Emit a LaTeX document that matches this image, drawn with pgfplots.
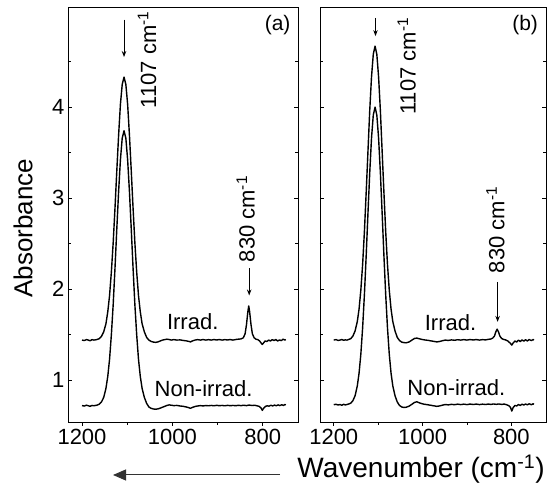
\documentclass[border=0pt]{standalone}
\usepackage{pgfplots}
\pgfplotsset{compat=1.18}
\usepackage{pgfplotstable}
\usepackage{fontspec}
\setmainfont{Liberation Sans}
\usetikzlibrary{arrows.meta}

% left panel (a)
\pgfplotstableread{
x y
1200 1.440
1195 1.435
1190 1.445
1186 1.440
1182 1.432
1178 1.445
1174 1.440
1170 1.443
1167 1.446
1162 1.455
1157 1.480
1152 1.530
1147 1.620
1143 1.750
1139 1.930
1135 2.190
1131 2.510
1127 2.890
1123 3.300
1119 3.690
1115 4.030
1111 4.250
1107 4.330
1103 4.250
1099 4.030
1095 3.690
1091 3.300
1087 2.890
1083 2.510
1079 2.190
1075 1.930
1071 1.750
1067 1.620
1062 1.530
1057 1.470
1052 1.440
1047 1.425
1042 1.418
1037 1.415
1032 1.420
1027 1.430
1022 1.440
1017 1.445
1012 1.450
1007 1.446
1002 1.440
997 1.445
990 1.440
983 1.442
976 1.436
970 1.432
964 1.426
960 1.420
956 1.430
950 1.440
944 1.445
938 1.440
932 1.446
926 1.440
920 1.445
914 1.440
908 1.446
902 1.441
896 1.446
890 1.440
884 1.445
878 1.441
872 1.446
866 1.440
860 1.446
854 1.450
848 1.453
843 1.465
839 1.510
836 1.610
833 1.750
831 1.815
829 1.750
826 1.610
823 1.510
819 1.465
815 1.450
811 1.445
807 1.430
804 1.410
801 1.392
798 1.410
795 1.430
791 1.424
787 1.440
783 1.430
779 1.445
775 1.435
771 1.446
767 1.430
763 1.442
759 1.434
755 1.450
751 1.440
749 1.446
}\irrA

\pgfplotstableread{
x y
1200 0.720
1195 0.715
1190 0.725
1186 0.718
1182 0.712
1178 0.722
1174 0.718
1170 0.722
1167 0.725
1162 0.735
1157 0.760
1152 0.810
1147 0.910
1143 1.040
1139 1.230
1135 1.500
1131 1.830
1127 2.230
1123 2.660
1119 3.070
1115 3.420
1111 3.660
1107 3.740
1103 3.660
1099 3.420
1095 3.070
1091 2.660
1087 2.230
1083 1.830
1079 1.500
1075 1.230
1071 1.040
1067 0.910
1062 0.810
1057 0.745
1052 0.705
1047 0.690
1042 0.683
1037 0.680
1032 0.684
1027 0.692
1022 0.702
1017 0.712
1012 0.722
1007 0.728
1002 0.724
997 0.720
990 0.722
983 0.716
976 0.712
970 0.706
964 0.698
960 0.690
956 0.700
950 0.710
944 0.716
938 0.720
932 0.716
926 0.721
920 0.718
914 0.722
908 0.718
902 0.723
896 0.719
890 0.722
884 0.718
878 0.723
872 0.719
866 0.722
860 0.719
854 0.723
848 0.720
842 0.724
836 0.720
830 0.726
824 0.721
818 0.724
813 0.718
808 0.712
804 0.695
801 0.668
798 0.692
794 0.712
790 0.718
786 0.714
782 0.724
778 0.716
774 0.726
770 0.718
766 0.728
762 0.720
758 0.730
754 0.722
751 0.732
749 0.728
}\nonA

% right panel (b)
\pgfplotstableread{
x y
1200 1.440
1195 1.445
1190 1.436
1186 1.440
1182 1.446
1178 1.438
1174 1.442
1170 1.440
1167 1.446
1162 1.455
1157 1.483
1152 1.540
1147 1.643
1143 1.782
1139 1.990
1135 2.270
1131 2.630
1127 3.060
1123 3.510
1119 3.960
1115 4.330
1111 4.580
1107 4.670
1103 4.580
1099 4.330
1095 3.960
1091 3.510
1087 3.060
1083 2.630
1079 2.270
1075 1.990
1071 1.782
1067 1.643
1062 1.540
1057 1.470
1052 1.435
1047 1.418
1042 1.412
1037 1.410
1030 1.420
1024 1.440
1018 1.458
1013 1.462
1008 1.455
1002 1.448
996 1.442
989 1.438
982 1.432
975 1.426
968 1.420
962 1.424
956 1.432
949 1.440
942 1.436
935 1.442
928 1.438
921 1.444
914 1.440
907 1.445
900 1.440
893 1.446
886 1.441
879 1.446
872 1.440
865 1.445
858 1.442
852 1.448
846 1.452
842 1.462
838 1.485
835 1.530
832 1.560
829 1.530
826 1.485
822 1.458
818 1.448
813 1.442
808 1.430
803 1.408
799 1.385
796 1.408
792 1.430
788 1.418
784 1.440
780 1.424
776 1.442
772 1.428
768 1.444
764 1.430
760 1.446
755 1.434
751 1.446
749 1.440
}\irrB

\pgfplotstableread{
x y
1200 0.730
1195 0.735
1190 0.726
1186 0.732
1182 0.724
1178 0.734
1174 0.728
1170 0.732
1167 0.737
1162 0.746
1157 0.773
1152 0.828
1147 0.936
1143 1.077
1139 1.286
1135 1.574
1131 1.937
1127 2.365
1123 2.829
1119 3.277
1115 3.657
1111 3.912
1107 4.000
1103 3.912
1099 3.657
1095 3.277
1091 2.829
1087 2.365
1083 1.937
1079 1.574
1075 1.286
1071 1.077
1067 0.936
1062 0.828
1057 0.760
1052 0.722
1047 0.705
1042 0.700
1037 0.702
1030 0.715
1024 0.735
1018 0.755
1013 0.762
1008 0.752
1002 0.742
996 0.735
989 0.730
982 0.724
975 0.718
968 0.712
962 0.716
956 0.724
949 0.732
942 0.728
935 0.734
928 0.730
921 0.736
914 0.731
907 0.736
900 0.731
893 0.737
886 0.732
879 0.737
872 0.731
865 0.736
858 0.732
852 0.737
846 0.733
840 0.738
834 0.734
828 0.738
822 0.733
816 0.737
811 0.730
806 0.720
802 0.700
799 0.660
796 0.698
792 0.722
788 0.716
784 0.732
780 0.722
776 0.736
772 0.726
768 0.738
764 0.728
760 0.740
755 0.730
751 0.740
749 0.734
}\nonB

\pgfplotsset{
  spec/.style={
    scale only axis,
    height=415pt,
    x dir=reverse,
    xmin=722, xmax=1231,
    ymin=0.54, ymax=5.10,
    xtick={800,1000,1200},
    minor xtick={900,1100},
    ytick={1,2,3,4},
    minor ytick={0.5,1.5,2.5,3.5,4.5},
    xtick pos=bottom,
    xtick align=outside,
    ytick align=inside,
    major tick length=4pt,
    minor tick length=3pt,
    tick style={black, line width=0.6pt},
    axis line style={line width=0.8pt},
    /pgf/number format/1000 sep={},
    /pgf/number format/assume math mode=true,
    tick label style={font=\fontsize{22}{26}\selectfont},
    clip=false,
  },
  curve/.style={black, line width=1.4pt, line join=round},
}
\tikzset{
  lbl/.style={font=\fontsize{22}{26}\selectfont},
  pk/.style={line width=1pt, -{Stealth[length=6pt,width=4.5pt]}},
}

\begin{document}
\begin{tikzpicture}
\useasboundingbox (0,0) rectangle (547pt,494pt);

\begin{axis}[spec, width=230pt, at={(68pt,72pt)}, anchor=south west]
\addplot[curve] table[x=x, y=y] {\irrA};
\addplot[curve] table[x=x, y=y] {\nonA};
\draw[pk] (axis cs:1107,4.96) -- (axis cs:1107,4.55);
\node[lbl, rotate=90] at (axis cs:1056,4.52) {1107 cm\textsuperscript{-1}};
\draw[pk] (axis cs:830,2.23) -- (axis cs:830,1.93);
\node[lbl, rotate=90] at (axis cs:838,2.77) {830 cm\textsuperscript{-1}};
\node[lbl] at (axis cs:955,1.64) {Irrad.};
\node[lbl] at (axis cs:931,0.91) {Non-irrad.};
\node[font=\fontsize{21}{25}\selectfont] at (axis cs:767,4.90) {(a)};
\end{axis}

\begin{axis}[spec, width=226pt, at={(320pt,72pt)}, anchor=south west, yticklabels={}]
\addplot[curve] table[x=x, y=y] {\irrB};
\addplot[curve] table[x=x, y=y] {\nonB};
\draw[pk] (axis cs:1106,4.98) -- (axis cs:1106,4.78);
\node[lbl, rotate=90] at (axis cs:1036,4.45) {1107 cm\textsuperscript{-1}};
\draw[pk] (axis cs:831,2.08) -- (axis cs:831,1.64);
\node[lbl, rotate=90] at (axis cs:836,2.65) {830 cm\textsuperscript{-1}};
\node[lbl] at (axis cs:937,1.63) {Irrad.};
\node[lbl] at (axis cs:924,0.92) {Non-irrad.};
\node[font=\fontsize{21}{25}\selectfont] at (axis cs:769,4.90) {(b)};
\end{axis}

\node[rotate=90, font=\fontsize{26}{31}\selectfont] at (23pt,266pt) {Absorbance};
\node[font=\fontsize{28}{33}\selectfont] at (421pt,25pt) {Wavenumber (cm\textsuperscript{-1})};
\draw[line width=1pt, black!80, -{Triangle[length=13pt,width=11pt]}] (280pt,19pt) -- (113pt,19pt);
\end{tikzpicture}
\end{document}
